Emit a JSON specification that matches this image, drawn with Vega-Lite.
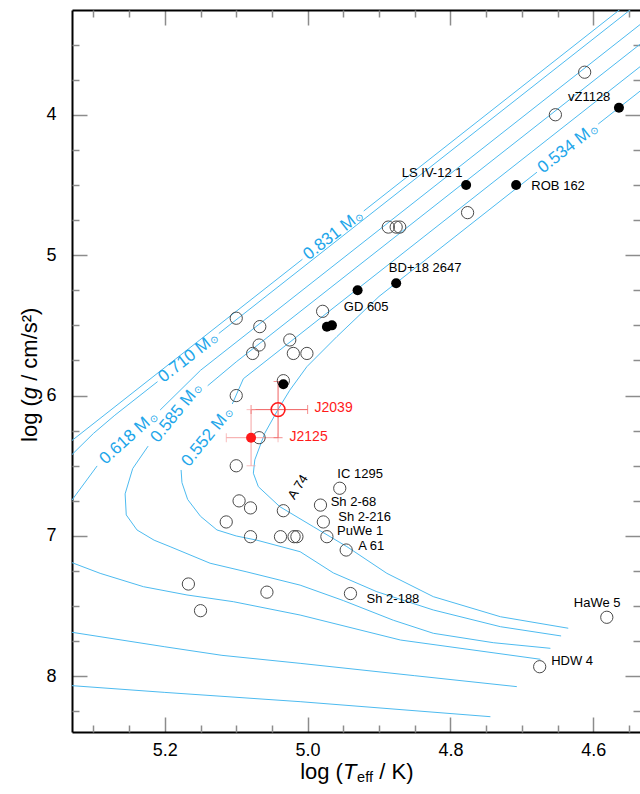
{
  "$schema": "https://vega.github.io/schema/vega-lite/v6.json",
  "width": 568,
  "height": 722,
  "autosize": {"type": "none"},
  "padding": {"left": 72, "top": 10, "right": 0, "bottom": 62},
  "background": "white",
  "config": {
    "view": {"stroke": null},
    "text": {"font": "Liberation Sans"},
    "axis": {
      "grid": false, "title": null, "labelFont": "Liberation Sans", "labelFontSize": 18,
      "labelColor": "black", "tickColor": "#8c8c8c", "tickWidth": 1.5, "domainColor": "black",
      "domainWidth": 2, "labelFlush": false, "labelOverlap": false, "zindex": 1
    }
  },
  "datasets": {
    "tracks": [
      {"seg": "831a", "i": 0, "T": 4.40, "g": 2.60}, {"seg": "831a", "i": 1, "T": 4.9214, "g": 4.6856},
      {"seg": "831b", "i": 0, "T": 5.0072, "g": 5.0288}, {"seg": "831b", "i": 1, "T": 5.40, "g": 6.60},
      {"seg": "831c", "i": 0, "T": 5.45, "g": 8.03}, {"seg": "831c", "i": 1, "T": 5.33, "g": 8.066}, {"seg": "831c", "i": 2, "T": 5.2, "g": 8.114}, {"seg": "831c", "i": 3, "T": 5.0105, "g": 8.18}, {"seg": "831c", "i": 4, "T": 4.744, "g": 8.287},
      {"seg": "710a", "i": 0, "T": 4.40, "g": 2.66}, {"seg": "710a", "i": 1, "T": 5.1244, "g": 5.5576},
      {"seg": "710b", "i": 0, "T": 5.2102, "g": 5.9008}, {"seg": "710b", "i": 1, "T": 5.27, "g": 6.14}, {"seg": "710b", "i": 2, "T": 5.30, "g": 6.27}, {"seg": "710b", "i": 3, "T": 5.33, "g": 6.42}, {"seg": "710b", "i": 4, "T": 5.37, "g": 6.66},
      {"seg": "710c", "i": 0, "T": 5.45, "g": 7.60}, {"seg": "710c", "i": 1, "T": 5.33, "g": 7.686}, {"seg": "710c", "i": 2, "T": 5.2, "g": 7.789}, {"seg": "710c", "i": 3, "T": 5.12, "g": 7.85}, {"seg": "710c", "i": 4, "T": 5.0105, "g": 7.907}, {"seg": "710c", "i": 5, "T": 4.85, "g": 7.995}, {"seg": "710c", "i": 6, "T": 4.707, "g": 8.073},
      {"seg": "618a", "i": 0, "T": 4.40, "g": 2.82}, {"seg": "618a", "i": 1, "T": 5.15, "g": 5.82}, {"seg": "618a", "i": 2, "T": 5.2066, "g": 6.103},
      {"seg": "618b", "i": 0, "T": 5.2948, "g": 6.501}, {"seg": "618b", "i": 1, "T": 5.33, "g": 6.744}, {"seg": "618b", "i": 2, "T": 5.37, "g": 7.05},
      {"seg": "618c", "i": 0, "T": 5.42, "g": 7.15}, {"seg": "618c", "i": 1, "T": 5.33, "g": 7.19}, {"seg": "618c", "i": 2, "T": 5.2906, "g": 7.266}, {"seg": "618c", "i": 3, "T": 5.23, "g": 7.361}, {"seg": "618c", "i": 4, "T": 5.169, "g": 7.42}, {"seg": "618c", "i": 5, "T": 5.104, "g": 7.468}, {"seg": "618c", "i": 6, "T": 5.0105, "g": 7.563}, {"seg": "618c", "i": 7, "T": 4.87, "g": 7.741}, {"seg": "618c", "i": 8, "T": 4.674, "g": 7.878},
      {"seg": "585a", "i": 0, "T": 4.40, "g": 2.96}, {"seg": "585a", "i": 1, "T": 5.10, "g": 5.76}, {"seg": "585a", "i": 2, "T": 5.14, "g": 5.93},
      {"seg": "585b", "i": 0, "T": 5.2234, "g": 6.36}, {"seg": "585b", "i": 1, "T": 5.245, "g": 6.52}, {"seg": "585b", "i": 2, "T": 5.2556, "g": 6.70}, {"seg": "585b", "i": 3, "T": 5.254, "g": 6.85}, {"seg": "585b", "i": 4, "T": 5.239, "g": 6.957}, {"seg": "585b", "i": 5, "T": 5.215, "g": 7.03}, {"seg": "585b", "i": 6, "T": 5.1926, "g": 7.076}, {"seg": "585b", "i": 7, "T": 5.1366, "g": 7.194}, {"seg": "585b", "i": 8, "T": 5.085, "g": 7.256}, {"seg": "585b", "i": 9, "T": 5.0105, "g": 7.35}, {"seg": "585b", "i": 10, "T": 4.95, "g": 7.46}, {"seg": "585b", "i": 11, "T": 4.88, "g": 7.60}, {"seg": "585b", "i": 12, "T": 4.824, "g": 7.693}, {"seg": "585b", "i": 13, "T": 4.74, "g": 7.76}, {"seg": "585b", "i": 14, "T": 4.66, "g": 7.80},
      {"seg": "552a", "i": 0, "T": 4.40, "g": 3.12}, {"seg": "552a", "i": 1, "T": 5.05, "g": 5.72}, {"seg": "552a", "i": 2, "T": 5.09, "g": 5.88}, {"seg": "552a", "i": 3, "T": 5.1055, "g": 6.06},
      {"seg": "552b", "i": 0, "T": 5.1772, "g": 6.53}, {"seg": "552b", "i": 1, "T": 5.176, "g": 6.62}, {"seg": "552b", "i": 2, "T": 5.168, "g": 6.74}, {"seg": "552b", "i": 3, "T": 5.150, "g": 6.86}, {"seg": "552b", "i": 4, "T": 5.127, "g": 6.957}, {"seg": "552b", "i": 5, "T": 5.10, "g": 7.0}, {"seg": "552b", "i": 6, "T": 5.071, "g": 7.03}, {"seg": "552b", "i": 7, "T": 5.0105, "g": 7.112}, {"seg": "552b", "i": 8, "T": 4.964, "g": 7.263}, {"seg": "552b", "i": 9, "T": 4.903, "g": 7.397}, {"seg": "552b", "i": 10, "T": 4.824, "g": 7.527}, {"seg": "552b", "i": 11, "T": 4.730, "g": 7.646}, {"seg": "552b", "i": 12, "T": 4.645, "g": 7.712},
      {"seg": "534a", "i": 0, "T": 4.40, "g": 3.294}, {"seg": "534a", "i": 1, "T": 4.5930, "g": 4.066},
      {"seg": "534b", "i": 0, "T": 4.6788, "g": 4.409}, {"seg": "534b", "i": 1, "T": 4.90, "g": 5.294}, {"seg": "534b", "i": 2, "T": 4.959, "g": 5.58}, {"seg": "534b", "i": 3, "T": 5.001, "g": 5.794}, {"seg": "534b", "i": 4, "T": 5.025, "g": 5.962}, {"seg": "534b", "i": 5, "T": 5.042, "g": 6.104}, {"seg": "534b", "i": 6, "T": 5.060, "g": 6.268}, {"seg": "534b", "i": 7, "T": 5.074, "g": 6.458}, {"seg": "534b", "i": 8, "T": 5.076, "g": 6.553}, {"seg": "534b", "i": 9, "T": 5.069, "g": 6.649}, {"seg": "534b", "i": 10, "T": 5.039, "g": 6.791}, {"seg": "534b", "i": 11, "T": 4.992, "g": 6.934}, {"seg": "534b", "i": 12, "T": 4.945, "g": 7.076}, {"seg": "534b", "i": 13, "T": 4.889, "g": 7.266}, {"seg": "534b", "i": 14, "T": 4.824, "g": 7.432}, {"seg": "534b", "i": 15, "T": 4.730, "g": 7.575}, {"seg": "534b", "i": 16, "T": 4.635, "g": 7.657}
    ],
    "tlab": [
      {"m": "0.831", "t": "0.831 M", "T": 4.9353, "g": 4.7412},
      {"m": "0.710", "t": "0.710 M", "T": 5.1383, "g": 5.6132},
      {"m": "0.534", "t": "0.534 M", "T": 4.6069, "g": 4.122},
      {"m": "0.618", "t": "0.618 M", "T": 5.2239, "g": 6.176},
      {"m": "0.585", "t": "0.585 M", "T": 5.1609, "g": 5.978},
      {"m": "0.552", "t": "0.552 M", "T": 5.1175, "g": 6.149}
    ],
    "open": [
      {"T": 4.612, "g": 3.697}, {"T": 4.653, "g": 4.0}, {"T": 4.776, "g": 4.697}, {"T": 4.887, "g": 4.80}, {"T": 4.876, "g": 4.80}, {"T": 4.871, "g": 4.80},
      {"T": 5.100, "g": 5.449}, {"T": 4.979, "g": 5.40}, {"T": 5.067, "g": 5.509}, {"T": 5.025, "g": 5.604}, {"T": 5.068, "g": 5.64}, {"T": 5.077, "g": 5.70}, {"T": 5.020, "g": 5.70}, {"T": 5.001, "g": 5.70}, {"T": 5.034, "g": 5.894}, {"T": 5.100, "g": 6.0}, {"T": 5.068, "g": 6.30}, {"T": 5.100, "g": 6.50},
      {"T": 4.955, "g": 6.66}, {"T": 5.096, "g": 6.75}, {"T": 5.080, "g": 6.80}, {"T": 5.034, "g": 6.82}, {"T": 4.982, "g": 6.78}, {"T": 5.114, "g": 6.90}, {"T": 4.978, "g": 6.90}, {"T": 5.080, "g": 7.005}, {"T": 5.038, "g": 7.005}, {"T": 5.019, "g": 7.005}, {"T": 5.015, "g": 7.005}, {"T": 4.973, "g": 7.005}, {"T": 4.946, "g": 7.10},
      {"T": 5.167, "g": 7.342}, {"T": 5.057, "g": 7.40}, {"T": 4.940, "g": 7.41}, {"T": 5.150, "g": 7.532}, {"T": 4.581, "g": 7.579}, {"T": 4.675, "g": 7.931}
    ],
    "filled": [
      {"T": 4.564, "g": 3.95}, {"T": 4.778, "g": 4.50}, {"T": 4.708, "g": 4.50}, {"T": 4.876, "g": 5.20},
      {"T": 4.930, "g": 5.25}, {"T": 4.973, "g": 5.51}, {"T": 4.966, "g": 5.50}, {"T": 5.034, "g": 5.92}
    ],
    "err": [
      {"name": "J2039", "T": 5.0414, "g": 6.1, "Tlo": 5.0, "Thi": 5.0792, "glo": 5.9, "ghi": 6.3},
      {"name": "J2125", "T": 5.0792, "g": 6.3, "Tlo": 5.0414, "Thi": 5.1139, "glo": 6.1, "ghi": 6.5}
    ],
    "jlab": [
      {"name": "J2039", "T": 4.9636, "g": 6.09},
      {"name": "J2125", "T": 4.9986, "g": 6.298}
    ],
    "names": [
      {"name": "vZ1128", "T": 4.6057, "g": 3.873}, {"name": "LS IV-12 1", "T": 4.8256, "g": 4.4145},
      {"name": "ROB 162", "T": 4.6492, "g": 4.507}, {"name": "BD+18 2647", "T": 4.8354, "g": 5.091},
      {"name": "GD 605", "T": 4.918, "g": 5.369}, {"name": "IC 1295", "T": 4.9265, "g": 6.555},
      {"name": "Sh 2-68", "T": 4.9358, "g": 6.761}, {"name": "Sh 2-216", "T": 4.9202, "g": 6.865},
      {"name": "PuWe 1", "T": 4.9265, "g": 6.968}, {"name": "A 61", "T": 4.911, "g": 7.072},
      {"name": "Sh 2-188", "T": 4.8805, "g": 7.45}, {"name": "HaWe 5", "T": 4.5945, "g": 7.474},
      {"name": "HDW 4", "T": 4.6296, "g": 7.89}, {"name": "A 74", "T": 5.0133, "g": 6.651}
    ]
  },
  "resolve": {"axis": {"x": "independent", "y": "independent"}},
  "layer": [
    {
      "data": {"name": "tracks"},
      "mark": {"type": "line", "clip": true, "color": "#4dbbf0", "strokeWidth": 1},
      "encoding": {
        "x": {"field": "T", "type": "quantitative", "scale": {"domain": [4.5345, 5.33], "reverse": true, "zero": false, "nice": false},
          "axis": {"orient": "bottom", "values": [5.2, 5.0, 4.8, 4.6], "format": ".1f", "tickSize": -15, "labelPadding": 24}},
        "y": {"field": "g", "type": "quantitative", "scale": {"domain": [3.254, 8.396], "reverse": true, "zero": false, "nice": false},
          "axis": {"orient": "left", "values": [4, 5, 6, 7, 8], "format": "d", "tickSize": -15, "labelPadding": 31}},
        "detail": {"field": "seg"},
        "order": {"field": "i", "type": "quantitative"}
      }
    },
    {
      "data": {"name": "tlab"},
      "transform": [{"filter": {"field": "m", "oneOf": ["0.831", "0.710", "0.534"]}}],
      "mark": {"type": "text", "angle": -38, "align": "right", "baseline": "middle", "fontSize": 17, "color": "#22a6ea"},
      "encoding": {
        "x": {"field": "T", "type": "quantitative", "axis": null}, "y": {"field": "g", "type": "quantitative", "axis": null},
        "text": {"field": "t"}
      }
    },
    {
      "data": {"name": "tlab"},
      "transform": [{"filter": {"field": "m", "oneOf": ["0.831", "0.710", "0.534"]}}],
      "mark": {"type": "text", "angle": -38, "align": "left", "baseline": "middle", "fontSize": 10, "dx": 1, "dy": 3, "color": "#22a6ea", "text": "⊙"},
      "encoding": {"x": {"field": "T", "type": "quantitative", "axis": null}, "y": {"field": "g", "type": "quantitative", "axis": null}}
    },
    {
      "data": {"name": "tlab"},
      "transform": [{"filter": {"field": "m", "equal": "0.618"}}],
      "mark": {"type": "text", "angle": -42, "align": "right", "baseline": "middle", "fontSize": 17, "color": "#22a6ea"},
      "encoding": {
        "x": {"field": "T", "type": "quantitative", "axis": null}, "y": {"field": "g", "type": "quantitative", "axis": null},
        "text": {"field": "t"}
      }
    },
    {
      "data": {"name": "tlab"},
      "transform": [{"filter": {"field": "m", "equal": "0.618"}}],
      "mark": {"type": "text", "angle": -42, "align": "left", "baseline": "middle", "fontSize": 10, "dx": 1, "dy": 3, "color": "#22a6ea", "text": "⊙"},
      "encoding": {"x": {"field": "T", "type": "quantitative", "axis": null}, "y": {"field": "g", "type": "quantitative", "axis": null}}
    },
    {
      "data": {"name": "tlab"},
      "transform": [{"filter": {"field": "m", "oneOf": ["0.585", "0.552"]}}],
      "mark": {"type": "text", "angle": -51, "align": "right", "baseline": "middle", "fontSize": 17, "color": "#22a6ea"},
      "encoding": {
        "x": {"field": "T", "type": "quantitative", "axis": null}, "y": {"field": "g", "type": "quantitative", "axis": null},
        "text": {"field": "t"}
      }
    },
    {
      "data": {"name": "tlab"},
      "transform": [{"filter": {"field": "m", "oneOf": ["0.585", "0.552"]}}],
      "mark": {"type": "text", "angle": -51, "align": "left", "baseline": "middle", "fontSize": 10, "dx": 1, "dy": 3, "color": "#22a6ea", "text": "⊙"},
      "encoding": {"x": {"field": "T", "type": "quantitative", "axis": null}, "y": {"field": "g", "type": "quantitative", "axis": null}}
    },
    {
      "data": {"name": "err"},
      "mark": {"type": "rule", "strokeWidth": 1},
      "encoding": {
        "x": {"field": "Tlo", "type": "quantitative", "axis": null},
        "x2": {"field": "Thi"},
        "y": {"field": "g", "type": "quantitative", "axis": null},
        "color": {"field": "name", "type": "nominal", "scale": {"domain": ["J2039", "J2125"], "range": ["#f06060", "#f5a3a3"]}, "legend": null}
      }
    },
    {
      "data": {"name": "err"},
      "mark": {"type": "rule", "strokeWidth": 1},
      "encoding": {
        "x": {"field": "T", "type": "quantitative", "axis": null},
        "y": {"field": "glo", "type": "quantitative", "axis": null},
        "y2": {"field": "ghi"},
        "color": {"field": "name", "type": "nominal", "scale": {"domain": ["J2039", "J2125"], "range": ["#f06060", "#f5a3a3"]}, "legend": null}
      }
    },
    {
      "data": {"name": "err"},
      "mark": {"type": "tick", "orient": "vertical", "size": 9, "thickness": 1},
      "encoding": {
        "x": {"field": "Tlo", "type": "quantitative", "axis": null},
        "y": {"field": "g", "type": "quantitative", "axis": null},
        "color": {"field": "name", "type": "nominal", "scale": {"domain": ["J2039", "J2125"], "range": ["#f06060", "#f5a3a3"]}, "legend": null}
      }
    },
    {
      "data": {"name": "err"},
      "mark": {"type": "tick", "orient": "vertical", "size": 9, "thickness": 1},
      "encoding": {
        "x": {"field": "Thi", "type": "quantitative", "axis": null},
        "y": {"field": "g", "type": "quantitative", "axis": null},
        "color": {"field": "name", "type": "nominal", "scale": {"domain": ["J2039", "J2125"], "range": ["#f06060", "#f5a3a3"]}, "legend": null}
      }
    },
    {
      "data": {"name": "err"},
      "mark": {"type": "tick", "orient": "horizontal", "size": 9, "thickness": 1},
      "encoding": {
        "x": {"field": "T", "type": "quantitative", "axis": null},
        "y": {"field": "glo", "type": "quantitative", "axis": null},
        "color": {"field": "name", "type": "nominal", "scale": {"domain": ["J2039", "J2125"], "range": ["#f06060", "#f5a3a3"]}, "legend": null}
      }
    },
    {
      "data": {"name": "err"},
      "mark": {"type": "tick", "orient": "horizontal", "size": 9, "thickness": 1},
      "encoding": {
        "x": {"field": "T", "type": "quantitative", "axis": null},
        "y": {"field": "ghi", "type": "quantitative", "axis": null},
        "color": {"field": "name", "type": "nominal", "scale": {"domain": ["J2039", "J2125"], "range": ["#f06060", "#f5a3a3"]}, "legend": null}
      }
    },
    {
      "data": {"name": "open"},
      "mark": {"type": "point", "shape": "circle", "filled": false, "size": 150, "stroke": "#4a4a4a", "strokeWidth": 1, "opacity": 1},
      "encoding": {
        "x": {"field": "T", "type": "quantitative",
          "axis": {"orient": "bottom", "values": [5.3, 5.25, 5.15, 5.1, 5.05, 4.95, 4.9, 4.85, 4.75, 4.7, 4.65, 4.55], "tickSize": -7, "labels": false, "domain": false}},
        "y": {"field": "g", "type": "quantitative",
          "axis": {"orient": "left", "values": [3.5, 3.75, 4.25, 4.5, 4.75, 5.25, 5.5, 5.75, 6.25, 6.5, 6.75, 7.25, 7.5, 7.75, 8.25], "tickSize": -7, "labels": false, "domain": false}}
      }
    },
    {
      "data": {"name": "filled"},
      "mark": {"type": "circle", "size": 100, "color": "black", "opacity": 1},
      "encoding": {
        "x": {"field": "T", "type": "quantitative",
          "axis": {"orient": "top", "values": [5.2, 5.0, 4.8, 4.6], "tickSize": -15, "labels": false, "domain": true}},
        "y": {"field": "g", "type": "quantitative",
          "axis": {"orient": "right", "values": [4, 5, 6, 7, 8], "tickSize": -15, "labels": false, "domain": false}}
      }
    },
    {
      "data": {"name": "err"},
      "transform": [{"filter": {"field": "name", "equal": "J2039"}}],
      "mark": {"type": "point", "shape": "circle", "filled": false, "size": 190, "stroke": "#ff1a1a", "strokeWidth": 1.6, "opacity": 1},
      "encoding": {
        "x": {"field": "T", "type": "quantitative",
          "axis": {"orient": "top", "values": [5.3, 5.25, 5.15, 5.1, 5.05, 4.95, 4.9, 4.85, 4.75, 4.7, 4.65, 4.55], "tickSize": -7, "labels": false, "domain": false}},
        "y": {"field": "g", "type": "quantitative",
          "axis": {"orient": "right", "values": [3.5, 3.75, 4.25, 4.5, 4.75, 5.25, 5.5, 5.75, 6.25, 6.5, 6.75, 7.25, 7.5, 7.75, 8.25], "tickSize": -7, "labels": false, "domain": false}}
      }
    },
    {
      "data": {"name": "err"},
      "transform": [{"filter": {"field": "name", "equal": "J2125"}}],
      "mark": {"type": "circle", "size": 100, "color": "#ff1a1a", "opacity": 1},
      "encoding": {"x": {"field": "T", "type": "quantitative", "axis": null}, "y": {"field": "g", "type": "quantitative", "axis": null}}
    },
    {
      "data": {"name": "jlab"},
      "mark": {"type": "text", "align": "center", "baseline": "middle", "fontSize": 14, "color": "#ff1a1a"},
      "encoding": {
        "x": {"field": "T", "type": "quantitative", "axis": null}, "y": {"field": "g", "type": "quantitative", "axis": null},
        "text": {"field": "name"}
      }
    },
    {
      "data": {"name": "names"},
      "transform": [{"filter": {"not": {"field": "name", "equal": "A 74"}}}],
      "mark": {"type": "text", "align": "center", "baseline": "middle", "fontSize": 13, "color": "black"},
      "encoding": {
        "x": {"field": "T", "type": "quantitative", "axis": null}, "y": {"field": "g", "type": "quantitative", "axis": null},
        "text": {"field": "name"}
      }
    },
    {
      "data": {"name": "names"},
      "transform": [{"filter": {"field": "name", "equal": "A 74"}}],
      "mark": {"type": "text", "align": "center", "baseline": "middle", "fontSize": 13, "color": "black", "angle": -58},
      "encoding": {
        "x": {"field": "T", "type": "quantitative", "axis": null}, "y": {"field": "g", "type": "quantitative", "axis": null},
        "text": {"field": "name"}
      }
    },
    {
      "data": {"values": [{}]},
      "mark": {"type": "text", "align": "left", "baseline": "middle", "fontSize": 22, "color": "black"},
      "encoding": {"x": {"datum": 5.0105, "type": "quantitative", "axis": null}, "y": {"datum": 8.681, "type": "quantitative", "axis": null}, "text": {"value": "log ("}}
    },
    {
      "data": {"values": [{}]},
      "mark": {"type": "text", "align": "left", "baseline": "middle", "fontSize": 22, "fontStyle": "italic", "color": "black"},
      "encoding": {"x": {"datum": 4.9503, "type": "quantitative", "axis": null}, "y": {"datum": 8.681, "type": "quantitative", "axis": null}, "text": {"value": "T"}}
    },
    {
      "data": {"values": [{}]},
      "mark": {"type": "text", "align": "left", "baseline": "middle", "fontSize": 14.5, "color": "black"},
      "encoding": {"x": {"datum": 4.9307, "type": "quantitative", "axis": null}, "y": {"datum": 8.726, "type": "quantitative", "axis": null}, "text": {"value": "eff"}}
    },
    {
      "data": {"values": [{}]},
      "mark": {"type": "text", "align": "left", "baseline": "middle", "fontSize": 22, "color": "black"},
      "encoding": {"x": {"datum": 4.8996, "type": "quantitative", "axis": null}, "y": {"datum": 8.681, "type": "quantitative", "axis": null}, "text": {"value": "/ K)"}}
    },
    {
      "data": {"values": [{}]},
      "mark": {"type": "text", "align": "left", "baseline": "middle", "fontSize": 22, "color": "black", "angle": 270},
      "encoding": {"x": {"datum": 5.3887, "type": "quantitative", "axis": null}, "y": {"datum": 6.3305, "type": "quantitative", "axis": null}, "text": {"value": "log ("}}
    },
    {
      "data": {"values": [{}]},
      "mark": {"type": "text", "align": "left", "baseline": "middle", "fontSize": 22, "fontStyle": "italic", "color": "black", "angle": 270},
      "encoding": {"x": {"datum": 5.3887, "type": "quantitative", "axis": null}, "y": {"datum": 6.0256, "type": "quantitative", "axis": null}, "text": {"value": "g"}}
    },
    {
      "data": {"values": [{}]},
      "mark": {"type": "text", "align": "left", "baseline": "middle", "fontSize": 22, "color": "black", "angle": 270},
      "encoding": {"x": {"datum": 5.3887, "type": "quantitative", "axis": null}, "y": {"datum": 5.8953, "type": "quantitative", "axis": null}, "text": {"value": "/ cm/s²)"}}
    }
  ]
}
